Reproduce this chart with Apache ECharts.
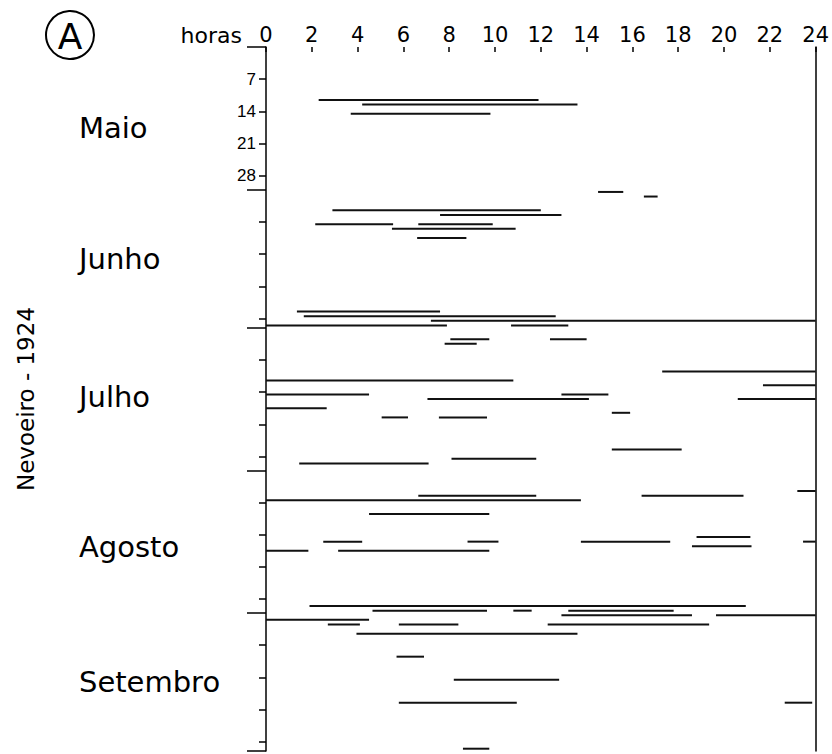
<!DOCTYPE html>
<html>
<head>
<meta charset="utf-8">
<title>Nevoeiro - 1924</title>
<script src="https://cdn.jsdelivr.net/npm/echarts@6/dist/echarts.min.js"></script>
<style>
    html, body { margin: 0; padding: 0; background: #fff; }
    #main { width: 832px; height: 754px; }
</style>
</head>
<body>
<div id="main"></div>
<script>
// season May..September 1924
var months = ["Maio", "Junho", "Julho", "Agosto", "Setembro"];
var monthDays = [31, 30, 31, 31, 30];
// where each month name sits (day of the season)
var monthLabelDay = [17.7, 46, 76, 108.6, 137.9];
// weekly marks inside every month, labelled only for May
var weekDays = [7, 14, 21, 28];

// fog spells: [day of month, start hour, end hour]
var maio = [
    [12, 2.3, 11.9],
    [13, 4.2, 13.6],
    [15, 3.7, 9.8]
];
var junho = [
    [1, 14.5, 15.6],
    [2, 16.5, 17.1],
    [5, 2.9, 12.0],
    [6, 7.6, 12.9],
    [8, 2.15, 5.55],
    [8, 6.65, 9.9],
    [9, 5.5, 10.9],
    [11, 6.6, 8.75],
    [27, 1.35, 7.6],
    [28, 1.65, 12.65],
    [29, 7.2, 24],
    [30, 10.7, 13.2],
    [30, 0, 7.9]
];
var julho = [
    [3, 8.05, 9.75],
    [3, 12.4, 14.0],
    [4, 7.8, 9.2],
    [10, 17.3, 24],
    [12, 0, 10.8],
    [13, 21.7, 24],
    [15, 0, 4.5],
    [15, 12.9, 14.95],
    [16, 7.05, 14.1],
    [16, 20.6, 24],
    [18, 0, 2.65],
    [19, 15.1, 15.9],
    [20, 5.05, 6.2],
    [20, 7.55, 9.65],
    [27, 15.1, 18.15],
    [29, 8.1, 11.8],
    [30, 1.45, 7.1]
];
var agosto = [
    [5, 23.2, 24],
    [6, 6.65, 11.8],
    [6, 16.4, 20.85],
    [7, 0, 13.75],
    [10, 4.5, 9.75],
    [15, 18.8, 21.15],
    [16, 2.5, 4.2],
    [16, 8.8, 10.15],
    [16, 13.75, 17.65],
    [16, 23.45, 24],
    [17, 18.6, 21.2],
    [18, 0, 1.85],
    [18, 3.15, 9.75],
    [30, 1.9, 20.95],
    [31, 4.65, 9.65],
    [31, 10.8, 11.6],
    [31, 13.2, 17.8]
];
var setembro = [
    [1, 12.9, 18.6],
    [1, 19.65, 24],
    [2, 0, 4.5],
    [3, 2.7, 4.1],
    [3, 5.8, 8.4],
    [3, 12.3, 19.35],
    [5, 3.95, 13.6],
    [10, 5.7, 6.9],
    [15, 8.2, 12.8],
    [20, 5.8, 10.95],
    [20, 22.65, 23.85],
    [30, 8.6, 9.75]
];

var spells = [maio, junho, julho, agosto, setembro];

var chartDom = document.getElementById("main");
var myChart = echarts.init(chartDom, null, { renderer: "svg" });
var option;

// day offsets of each month inside the season
var offsets = [];
var total = 0;
for (var m = 0; m < monthDays.length; m++) {
    offsets.push(total);
    total += monthDays[m];
}
var monthEdges = offsets.concat([total]);

var weekTicks = [];
for (var m = 0; m < offsets.length; m++) {
    for (var w = 0; w < weekDays.length; w++) {
        weekTicks.push(offsets[m] + weekDays[w]);
    }
}

var fogData = [];
for (var m = 0; m < spells.length; m++) {
    for (var i = 0; i < spells[m].length; i++) {
        var s = spells[m][i];
        fogData.push([s[1], s[2], offsets[m] + s[0] - 0.5]);
    }
}

var black = "#000";

option = {
    backgroundColor: "#fff",
    animation: false,
    grid: {
        left: 266,
        right: 16,
        top: 47,
        bottom: 3,
        containLabel: false
    },
    graphic: [
        {
            type: "circle",
            shape: { cx: 70, cy: 35, r: 24 },
            style: { fill: "none", stroke: black, lineWidth: 2 }
        },
        {
            type: "text",
            x: 70,
            y: 36,
            style: {
                text: "A",
                fill: black,
                font: "36px 'DejaVu Sans'",
                align: "center",
                verticalAlign: "middle"
            }
        }
    ],
    xAxis: {
        type: "value",
        position: "top",
        min: 0,
        max: 24,
        interval: 2,
        name: "horas",
        nameLocation: "start",
        nameGap: 24,
        nameTextStyle: {
            color: black,
            fontSize: 22,
            fontFamily: "DejaVu Sans",
            verticalAlign: "bottom",
            padding: [0, 0, 1, 0]
        },
        axisLine: { show: false },
        axisTick: { show: true, inside: true, length: 5, lineStyle: { color: black, width: 1.5 } },
        axisLabel: {
            color: black,
            fontSize: 21,
            fontFamily: "DejaVu Sans",
            margin: 2
        },
        splitLine: { show: false }
    },
    yAxis: [
        {
            type: "value",
            inverse: true,
            min: 0,
            max: total,
            name: "Nevoeiro - 1924",
            nameLocation: "middle",
            nameGap: 229,
            nameRotate: 90,
            nameTextStyle: {
                color: black,
                fontSize: 23,
                fontFamily: "DejaVu Sans"
            },
            axisLine: { show: true, onZero: false, lineStyle: { color: black, width: 1.5 } },
            axisTick: {
                show: true,
                length: 7,
                customValues: weekTicks,
                lineStyle: { color: black, width: 1.5 }
            },
            axisLabel: {
                show: true,
                customValues: weekDays,
                formatter: function (v) {
                    return String(v);
                },
                color: black,
                fontSize: 17,
                fontFamily: "Liberation Sans",
                margin: 10
            },
            splitLine: { show: false }
        },
        {
            // month boundaries and month names
            type: "value",
            inverse: true,
            min: 0,
            max: total,
            position: "left",
            axisLine: { show: false },
            axisTick: {
                show: true,
                length: 19,
                customValues: monthEdges,
                lineStyle: { color: black, width: 1.5 }
            },
            axisLabel: {
                show: true,
                customValues: monthLabelDay,
                formatter: function (v) {
                    return months[monthLabelDay.indexOf(v)];
                },
                align: "left",
                margin: 187,
                color: black,
                fontSize: 29,
                fontFamily: "DejaVu Sans"
            },
            splitLine: { show: false }
        },
        {
            type: "value",
            inverse: true,
            min: 0,
            max: total,
            position: "right",
            axisLine: { show: true, onZero: false, lineStyle: { color: black, width: 1.5 } },
            axisTick: { show: false },
            axisLabel: { show: false },
            splitLine: { show: false }
        }
    ],
    series: [
        {
            type: "custom",
            silent: true,
            xAxisIndex: 0,
            yAxisIndex: 0,
            encode: { x: [0, 1], y: 2 },
            renderItem: function (params, api) {
                var a = api.coord([api.value(0), api.value(2)]);
                var b = api.coord([api.value(1), api.value(2)]);
                return {
                    type: "line",
                    shape: { x1: a[0], y1: a[1], x2: b[0], y2: b[1] },
                    style: { stroke: "#111", lineWidth: 2 }
                };
            },
            data: fogData
        }
    ]
};

option && myChart.setOption(option);
</script>
</body>
</html>
